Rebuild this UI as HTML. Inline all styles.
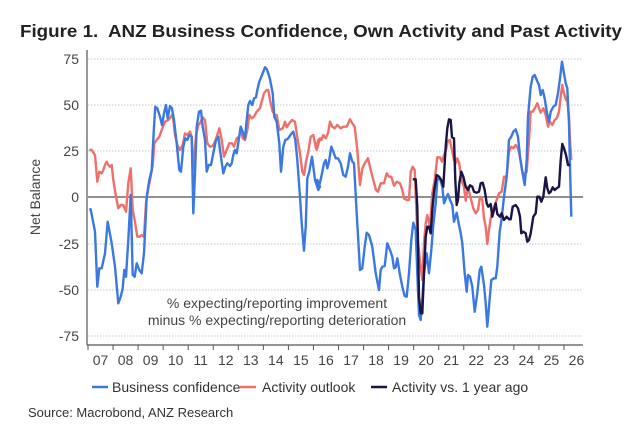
<!DOCTYPE html>
<html><head><meta charset="utf-8"><style>
body{margin:0;background:#fff;}
svg{display:block;font-family:"Liberation Sans",Arial,sans-serif;}
</style></head><body>
<svg id="s" width="634" height="437" viewBox="0 0 634 437">
<text x="20" y="37" font-size="17.5" font-weight="bold" fill="#222" textLength="602" lengthAdjust="spacingAndGlyphs" xml:space="preserve">Figure 1.  ANZ Business Confidence, Own Activity and Past Activity</text>
<g stroke="#b9c9d6" stroke-dasharray="1.5,1.5" stroke-width="1">
<line x1="88" x2="583" y1="59" y2="59"/><line x1="88" x2="583" y1="105" y2="105"/><line x1="88" x2="583" y1="151" y2="151"/>
<line x1="88" x2="583" y1="244" y2="244"/><line x1="88" x2="583" y1="290" y2="290"/><line x1="88" x2="583" y1="336" y2="336"/>
</g>
<line x1="88" x2="583" y1="197" y2="197" stroke="#222" stroke-width="1"/>
<line x1="87" x2="87" y1="50" y2="345" stroke="#555" stroke-width="1.2"/>
<line x1="87" x2="583" y1="345" y2="345" stroke="#555" stroke-width="1.2"/>
<g id="ticks" stroke="#555" stroke-width="1"></g>
<g font-size="14" fill="#444" text-anchor="end">
<text x="79" y="64">75</text><text x="79" y="110">50</text><text x="79" y="156">25</text><text x="79" y="202">0</text>
<text x="79" y="249">-25</text><text x="79" y="295">-50</text><text x="79" y="341">-75</text>
</g>
<g id="xl" font-size="14" fill="#444" text-anchor="middle"></g>
<text transform="translate(40,197) rotate(-90)" text-anchor="middle" font-size="14" fill="#444">Net Balance</text>
<text x="277" y="308" text-anchor="middle" font-size="14" fill="#444">% expecting/reporting improvement</text>
<text x="277" y="325" text-anchor="middle" font-size="14" fill="#444">minus % expecting/reporting deterioration</text>
<g id="lines" fill="none" stroke-width="2.4" stroke-linejoin="round"></g>
<line x1="92" x2="108" y1="387" y2="387" stroke="#3b78e0" stroke-width="2.5"/>
<text x="112" y="392" font-size="14" fill="#333">Business confidence</text>
<line x1="240" x2="256" y1="387" y2="387" stroke="#ef706a" stroke-width="2.5"/>
<text x="262" y="392" font-size="14" fill="#333">Activity outlook</text>
<line x1="371" x2="387" y1="387" y2="387" stroke="#1a1545" stroke-width="2.5"/>
<text x="392" y="392" font-size="14" fill="#333">Activity vs. 1 year ago</text>
<text x="28" y="417" font-size="13" fill="#333">Source: Macrobond, ANZ Research</text>
</svg>
<script>
var NS="http://www.w3.org/2000/svg";
var tk=document.getElementById("ticks"),xl=document.getElementById("xl");
for(var i=0;i<=19;i++){var x=88+i*25.05;var l=document.createElementNS(NS,"line");l.setAttribute("x1",x);l.setAttribute("x2",x);l.setAttribute("y1",345);l.setAttribute("y2",350);tk.appendChild(l);
var t=document.createElementNS(NS,"text");t.setAttribute("x",x+12.5);t.setAttribute("y",365);var yy=(7+i)%100;t.textContent=(yy<10?"0":"")+yy;xl.appendChild(t);}
function P(a,b){var o=[];for(var i=0;i<a.length;i+=2)o.push((a[i]/3).toFixed(1)+","+(40+a[i+1]/3).toFixed(1));for(var i=0;i<b.length;i+=2)o.push((314+b[i]/3).toFixed(1)+","+(40+b[i+1]/3).toFixed(1));return o.join(" ");}
var b1=[268,508,272,508,285,575,292,740,298,685,305,685,315,640,323,545,335,610,345,680,355,790,362,770,368,745,373,690,378,710,385,600,392,465,398,705,404,710,410,670,418,690,425,700,432,640,440,470,448,420,455,390,462,260,466,200,472,205,480,230,486,255,492,220,498,195,503,235,510,198,516,205,522,240,530,310,538,390,543,395,550,320,556,295,562,300,568,285,575,290,580,520,585,400,590,260,597,215,603,212,608,260,615,300,620,395,626,375,633,375,640,340,648,300,655,290,660,330,670,400,676,380,682,370,690,378,695,370,700,345,705,330,710,340,716,300,722,260,728,275,735,295,740,240,745,195,750,183,757,195,762,175,768,172,772,150,778,125,786,105,795,82,800,87,805,100,810,118,818,160,823,230,830,245,838,310,843,395,850,320,856,300,862,298,868,290,875,280,880,275,886,300,892,360,900,470,905,550,912,632,917,560,922,415,928,395,936,350,945,420,955,450,960,440];
var b2=[10,420,15,440,22,410,30,370,35,360,40,385,45,365,52,320,58,335,65,355,72,355,80,370,88,405,95,410,102,380,108,340,115,365,120,370,128,520,138,690,145,685,152,620,158,578,165,585,175,620,185,700,195,750,200,690,205,680,212,678,220,610,228,630,235,650,240,685,245,682,250,655,258,705,265,740,272,768,278,770,285,700,292,600,298,548,305,570,310,700,315,825,320,840,325,780,330,700,338,640,345,700,352,630,358,555,365,490,370,420,378,415,385,440,390,490,396,475,402,462,408,480,415,495,420,545,428,518,435,555,440,580,445,610,452,700,458,755,462,705,468,710,475,740,482,815,490,760,497,690,502,680,510,735,515,790,520,860,525,800,532,720,540,715,545,715,550,680,557,575,563,535,570,470,578,410,585,300,592,290,598,275,605,268,612,290,618,350,625,395,632,435,638,360,642,230,650,140,656,110,662,105,668,120,675,135,680,165,686,150,692,175,698,215,705,245,710,215,718,200,725,195,732,160,738,115,744,65,750,100,755,130,760,145,765,250,768,380,772,530];
var r1=[268,330,275,330,285,345,292,425,298,395,305,400,310,390,315,375,320,365,325,375,330,380,335,375,340,420,348,470,355,505,362,495,370,495,378,515,385,430,392,385,398,510,405,545,412,590,418,590,425,585,432,590,438,490,445,445,452,410,458,375,463,310,470,300,478,290,485,270,495,245,505,240,513,230,518,222,525,285,532,315,540,330,548,315,555,280,562,285,570,275,575,290,580,390,588,285,595,255,600,250,608,232,615,240,622,310,630,320,638,318,645,305,650,290,658,265,665,300,672,350,680,330,688,310,696,310,702,320,710,295,718,290,722,265,728,295,735,300,742,270,748,225,755,235,762,230,770,215,775,210,780,205,785,185,792,160,800,150,805,150,810,180,818,215,825,225,830,225,838,270,848,265,855,245,860,262,868,250,876,240,885,245,893,300,900,340,907,395,912,405,918,365,925,335,932,290,940,285,948,325,955,300,960,295];
var r2=[8,330,15,300,22,300,28,285,35,295,42,280,48,245,55,260,62,265,70,255,80,265,88,260,98,260,108,238,115,250,122,260,130,330,138,435,145,385,152,370,162,355,170,390,178,420,186,450,192,455,200,430,210,430,218,400,225,410,232,410,240,437,248,425,258,430,265,450,270,475,278,480,285,480,290,395,296,380,302,390,310,580,318,665,325,720,330,610,335,550,340,525,348,560,355,460,362,420,370,352,378,352,384,365,390,345,396,330,402,302,408,300,415,335,420,360,425,370,430,355,436,370,442,420,450,440,455,482,462,440,470,475,478,505,485,520,492,510,498,470,505,480,510,535,515,560,520,612,525,570,530,535,535,512,540,500,548,480,555,460,563,455,570,410,578,410,585,335,592,320,598,325,605,315,612,325,618,352,625,395,632,405,638,395,645,300,650,215,656,215,662,205,670,190,675,205,680,218,688,205,695,225,702,260,708,245,715,255,722,240,728,235,735,215,740,170,745,135,750,160,756,180,760,180,765,230,768,300,772,360];
var n2=[296,418,305,418,310,500,315,770,320,820,325,820,330,700,335,590,340,560,345,560,350,580,355,510,360,455,368,405,375,410,382,420,388,440,395,320,400,265,405,238,410,240,414,292,420,295,424,420,428,495,432,480,436,430,442,395,448,410,455,440,462,450,468,436,475,440,480,455,488,458,495,455,500,430,506,428,512,450,518,490,523,500,530,492,535,530,540,510,545,490,550,522,558,530,563,520,570,540,578,530,585,538,590,538,596,500,605,495,612,505,618,530,622,580,628,575,635,580,640,605,645,600,650,580,658,530,665,520,670,470,676,470,682,485,688,470,695,412,700,445,705,460,710,455,716,442,722,450,728,445,735,440,740,360,745,312,750,325,756,345,762,375,768,375];
var g=document.getElementById("lines");
[[r1,r2,"#ef706a"],[b1,b2,"#3b78e0"],[[],n2,"#1a1545"]].forEach(function(s){var p=document.createElementNS(NS,"polyline");p.setAttribute("points",P(s[0],s[1]));p.setAttribute("stroke",s[2]);g.appendChild(p);});
</script>
</body></html>
